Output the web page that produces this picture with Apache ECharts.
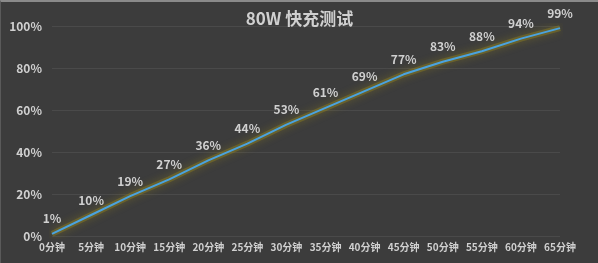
<!DOCTYPE html>
<html>
<head>
<meta charset="utf-8">
<style>
html, body { margin: 0; padding: 0; background: #3c3c3c; }
#main { width: 598px; height: 263px; box-sizing: border-box; border-top: 2px solid #8a8a8a; border-left: 1px solid #5a5a5a; }
</style>
<script src="https://cdn.jsdelivr.net/npm/echarts@6/dist/echarts.min.js"></script>
</head>
<body>
<div id="main"></div>
<script>
// 数据
var categories = ['0分钟', '5分钟', '10分钟', '15分钟', '20分钟', '25分钟', '30分钟', '35分钟', '40分钟', '45分钟', '50分钟', '55分钟', '60分钟', '65分钟'];
var values = [1, 10, 19, 27, 36, 44, 53, 61, 69, 77, 83, 88, 94, 99];
var titleText = '80W 快充测试';

var myChart = echarts.init(document.getElementById('main'));
var option = {
    backgroundColor: '#3c3c3c',
    textStyle: { fontFamily: 'Noto Sans CJK SC' },
    title: {
        text: titleText,
        left: 'center',
        top: 3,
        textStyle: { color: '#d0d0d0', fontSize: 17, fontWeight: 'bold' }
    },
    grid: { left: 51, right: 38, top: 24, bottom: 27 },
    xAxis: {
        type: 'category',
        data: categories,
        boundaryGap: false,
        axisLine: { show: false },
        axisTick: { show: false },
        axisLabel: { color: '#d0d0d0', fontSize: 10, fontWeight: 'bold', margin: 6, interval: 0 }
    },
    yAxis: {
        type: 'value',
        min: 0,
        max: 100,
        interval: 20,
        axisLabel: { color: '#d0d0d0', fontSize: 12, fontWeight: 'bold', formatter: '{value}%', margin: 10 },
        splitLine: { lineStyle: { color: '#4a4a4a', width: 1 } }
    },
    series: [{
        // 黄色光晕
        type: 'line',
        data: values,
        symbol: 'none',
        silent: true,
        lineStyle: {
            color: 'rgba(150, 135, 30, 0.4)',
            width: 6,
            shadowColor: 'rgba(180, 160, 20, 0.7)',
            shadowBlur: 9
        },
        animation: false
    }, {
        type: 'line',
        data: values,
        symbol: 'circle',
        symbolSize: 0,
        showSymbol: true,
        itemStyle: { color: '#4aa3e0' },
        lineStyle: { color: '#4aa3e0', width: 2 },
        label: {
            show: true,
            position: 'top',
            distance: 9,
            color: '#d0d0d0',
            fontSize: 12,
            fontWeight: 'bold',
            formatter: '{c}%'
        },
        animation: false
    }]
};
myChart.setOption(option);
</script>
</body>
</html>
